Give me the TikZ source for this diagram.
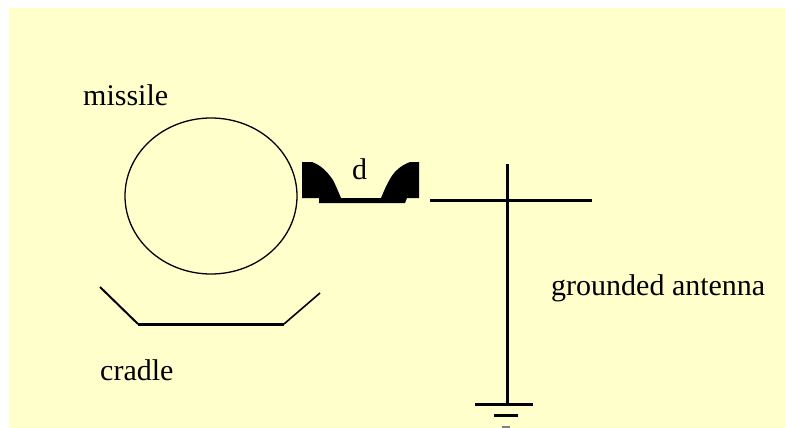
\documentclass[tikz,border=0pt]{standalone}
\usepackage{tikz}
\usepackage{fontspec}
\setmainfont{Liberation Serif}
\definecolor{paleyellow}{RGB}{255,255,204}
\usetikzlibrary{positioning, calc}

\begin{document}
\begin{tikzpicture}[
    x=1pt, y=-1pt,
    lbl/.style={font=\fontsize{30}{32}\selectfont, inner sep=0pt, anchor=base west},
    wire/.style={line width=3pt},
    thin wire/.style={line width=1.3pt},
]
\useasboundingbox (0,0) rectangle (785,428);
\fill[paleyellow] (9,8) rectangle (785,428);
% missile and cradle
\draw[thin wire] (211,196) ellipse (86 and 78);
\node[lbl] (missile) at (83,106) {missile};
\coordinate (c1) at (100,287);
\coordinate (c2) at (138,324);
\coordinate (c3) at (284,324);
\coordinate (c4) at (320,293);
\draw[line width=2pt] (c1) -- (c2);
\draw[wire] (c2) -- (c3);
\draw[line width=1.6pt] (c3) -- (c4);
\node[lbl] (cradle) at (100,380) {cradle};
% gap
\fill (302,162) -- (312,162) .. controls (320,165) and (326,170) .. (333,180)
  .. controls (336,186) and (338,191) .. (341,198) -- (381,198)
  .. controls (386,186) and (391,175) .. (397,170) .. controls (401,166) and (405,164) .. (410,162)
  -- (419,162) -- (419,198) -- (407,198) -- (405,203) -- (319,203) -- (319,198) -- (302,198) -- cycle;
\node[lbl] (d) at (352,179) {d};
% antenna
\coordinate (a1) at (430,200);
\coordinate (a2) at (592,200);
\coordinate (a3) at (507,164);
\coordinate (a4) at (507,404);
\draw[wire] (a1) -- (a2);
\draw[wire] (a3) -- (a4);
\node[lbl] (antenna) at (551,295) {grounded antenna};
% ground
\coordinate (g1) at (475,404);
\coordinate (g2) at (533,404);
\coordinate (g3) at (494,415);
\coordinate (g4) at (518,415);
\coordinate (g5) at (502,427);
\coordinate (g6) at (510,427);
\draw[wire] (g1) -- (g2);
\draw[wire] (g3) -- (g4);
\draw[line width=2pt, gray] (g5) -- (g6);
\end{tikzpicture}
\end{document}
